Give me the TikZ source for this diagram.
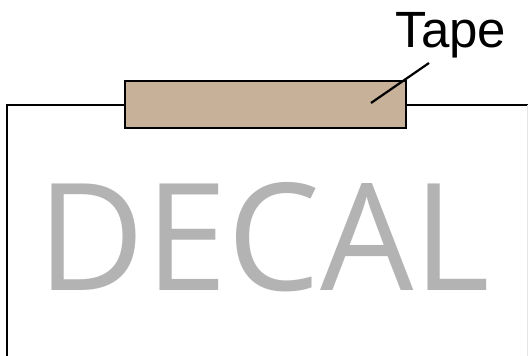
\documentclass[tikz,border=0pt]{standalone}
\usepackage{fontspec}
\setmainfont{Liberation Sans}
\newfontfamily\decalfont{Open Sans}
\definecolor{tapecol}{HTML}{C7B199}
\definecolor{decalgray}{HTML}{B3B3B3}
\tikzset{
  outline/.style={draw=black, line width=2.2pt},
  tapebox/.style={outline, fill=tapecol, inner sep=0pt, minimum width=281pt, minimum height=47pt},
  leader/.style={draw=black, line width=2.2pt},
}
\begin{document}
\begin{tikzpicture}[x=1pt,y=-1pt]
\useasboundingbox (0,0) rectangle (528,356);
\fill[white] (0,0) rectangle (528,356);
% decal sheet
\draw[line width=2.2pt] (7,357) -- (7,105) -- (529,105);
\draw[line width=1pt, draw=black!10] (527,105) -- (527,357);
% decal text
\node[anchor=base, text=decalgray, inner sep=0pt] (decal) at (264,290)
  {\resizebox{452pt}{108pt}{\decalfont DECAL}};
% tape
\node[tapebox, anchor=north west] (tape) at (124,80) {};
% label
\node[anchor=base, inner sep=0pt, font=\fontsize{51}{51}\selectfont] (lbl) at (451,47) {Tape};
\coordinate (lend) at (429,63);
\coordinate (tend) at (371,103);
\draw[leader] (lend) -- (tend);
\end{tikzpicture}
\end{document}
